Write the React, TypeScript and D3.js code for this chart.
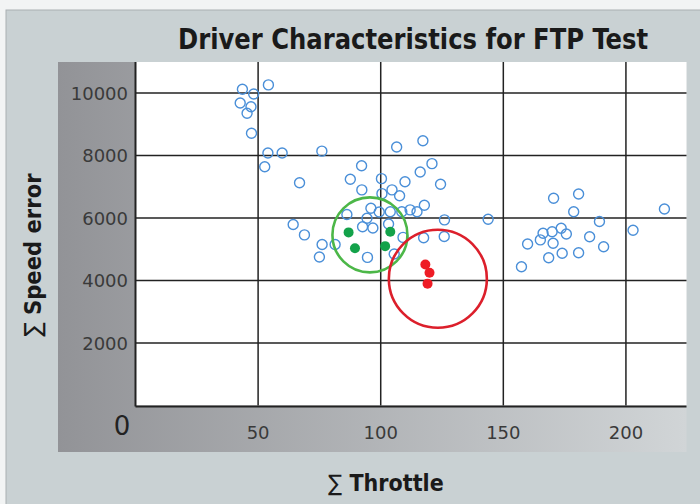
import React from 'react';
import * as d3 from 'd3';

const xTicks = [50, 100, 150, 200];
const yTicks = [2000, 4000, 6000, 8000, 10000];

// all drivers (open blue circles)
const throttle = [
  43.6, 48.2, 54.2, 42.7, 47.1, 45.5, 47.3, 54.0, 59.8, 52.7, 76.0, 66.9, 64.3, 68.9, 76.1, 75.0,
  106.5, 117.2, 92.2, 120.9, 116.1, 87.6, 100.3, 109.9, 124.4, 92.3, 100.5, 104.6, 107.7, 96.0,
  99.4, 103.9, 108.6, 112.0, 114.8, 117.8, 86.2, 94.4, 92.6, 96.8, 103.2, 126.0, 143.8, 109.1,
  117.5, 125.9, 81.4, 94.6, 105.5, 159.9, 157.4, 170.5, 180.7, 178.7, 189.2, 215.7, 202.9, 166.2,
  169.9, 173.6, 175.7, 165.1, 170.3, 185.2, 190.9, 180.7, 174.0, 168.5,
];
const speedError = [
  10120, 9970, 10260, 9680, 9560, 9350, 8710, 8080, 8080, 7640, 8140, 7130, 5790, 5460, 5150, 4750,
  8270, 8470, 7670, 7740, 7470, 7240, 7260, 7160, 7080, 6900, 6780, 6900, 6710, 6310,
  6190, 6200, 6200, 6260, 6200, 6410, 6110, 5990, 5720, 5680, 5810, 5940, 5960, 5380,
  5370, 5410, 5150, 4740, 4850, 5170, 4440, 6630, 6770, 6200, 5890, 6290, 5610, 5510,
  5560, 5670, 5490, 5300, 5190, 5400, 5080, 4890, 4870, 4730,
];

// highlighted groups
const greenThrottle = [86.9, 103.9, 89.5, 101.8];
const greenError = [5540, 5560, 5030, 5100];
const redThrottle = [118.2, 119.9, 119.1];
const redError = [4510, 4250, 3900];

// group outline centres
const groupThrottle = [95.6, 123.3];
const groupError = [5460, 4055];

const W = 700;
const H = 504;

export default function App() {
  const x = d3.scaleLinear().domain([0, 224.7]).range([135.5, 686.5]);
  const y = d3.scaleLinear().domain([0, 10992]).range([405.5, 62]);
  const [x0, x1] = x.range();
  const [y0, y1] = y.range();
  const tickFont = "'DejaVu Sans', sans-serif";
  const narrow = "'Liberation Sans Narrow', 'DejaVu Sans Condensed', 'Liberation Sans', sans-serif";

  return (
    <svg width={W} height={H} style={{ position: 'absolute', left: 0, top: 0 }}>
      <defs>
        <linearGradient id="band" x1="0" x2="1" y1="0" y2="0">
          <stop offset="0" stopColor="#929397" />
          <stop offset="1" stopColor="#d1d5d7" />
        </linearGradient>
      </defs>
      <rect x={0} y={0} width={W} height={H} fill="#f2f4f4" />
      <rect x={6} y={10} width={W - 5} height={H - 9} fill="#c9d1d3" stroke="#a9b0b2" strokeWidth={1} />
      <rect x={58} y={y1} width={x1 - 58} height={452 - y1} fill="url(#band)" />
      <rect x={x0} y={y1} width={x1 - x0} height={y0 - y1} fill="#ffffff" />

      {/* grid */}
      {xTicks.map((t) => (
        <line key={'gx' + t} x1={x(t)} x2={x(t)} y1={y1} y2={y0} stroke="#222" strokeWidth={1.5} />
      ))}
      {yTicks.map((t) => (
        <line key={'gy' + t} x1={x0} x2={x1} y1={y(t)} y2={y(t)} stroke="#222" strokeWidth={1.5} />
      ))}
      <line x1={x0} x2={x0} y1={y1} y2={y0 + 1} stroke="#222" strokeWidth={2} />
      <line x1={x0} x2={x1} y1={y0 + 1} y2={y0 + 1} stroke="#222" strokeWidth={2.2} />

      {/* tick labels */}
      {yTicks.map((t) => (
        <text key={'ty' + t} x={128} y={y(t) + 6.5} textAnchor="end" fontFamily={tickFont} fontSize={18} fill="#3a3a3a">
          {t}
        </text>
      ))}
      {xTicks.map((t) => (
        <text key={'tx' + t} x={x(t)} y={439} textAnchor="middle" fontFamily={tickFont} fontSize={18} fill="#3a3a3a">
          {t}
        </text>
      ))}
      <text x={122} y={435} textAnchor="middle" fontFamily={tickFont} fontSize={26} fill="#222">0</text>

      {/* points */}
      {throttle.map((t, i) => (
        <circle key={'p' + i} cx={x(t)} cy={y(speedError[i])} r={5} fill="none" stroke="#4a8fd8" strokeWidth={1.4} />
      ))}
      {greenThrottle.map((t, i) => (
        <circle key={'g' + i} cx={x(t)} cy={y(greenError[i])} r={5} fill="#13a24a" />
      ))}
      {redThrottle.map((t, i) => (
        <circle key={'r' + i} cx={x(t)} cy={y(redError[i])} r={5} fill="#ee1c25" />
      ))}
      <circle cx={x(groupThrottle[0])} cy={y(groupError[0])} r={37.5} fill="none" stroke="#4cb748" strokeWidth={2.6} />
      <circle cx={x(groupThrottle[1])} cy={y(groupError[1])} r={49} fill="none" stroke="#dc1f2b" strokeWidth={2.6} />

      {/* titles */}
      <text x={413} y={49} textAnchor="middle" fontFamily={narrow} fontWeight="bold" fontSize={28} fill="#1a1a1a"
        textLength={470} lengthAdjust="spacingAndGlyphs">
        Driver Characteristics for FTP Test
      </text>
      <text x={386} y={491} textAnchor="middle" fontFamily={narrow} fontWeight="bold" fontSize={23} fill="#1a1a1a">
        <tspan fontWeight="normal">∑</tspan> Throttle
      </text>
      <text transform="translate(41,255) rotate(-90)" textAnchor="middle" fontFamily={narrow} fontWeight="bold" fontSize={23.5} fill="#1a1a1a">
        <tspan fontWeight="normal">∑</tspan> Speed error
      </text>
    </svg>
  );
}
